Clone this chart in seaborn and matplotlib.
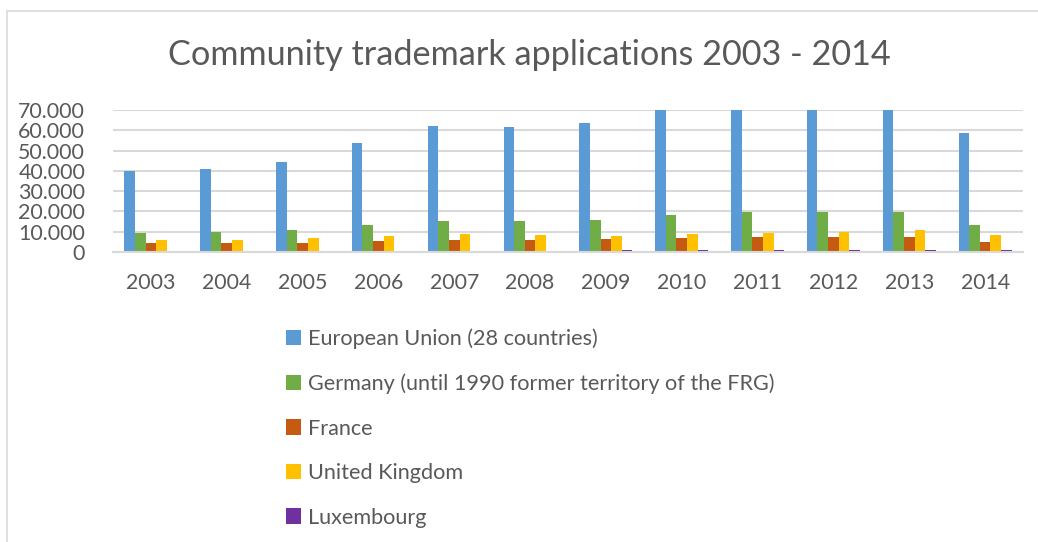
import matplotlib
matplotlib.use("Agg")
import matplotlib.pyplot as plt
import matplotlib.ticker as mticker
from matplotlib.patches import Rectangle
import pandas as pd
import seaborn as sns

years = ["2003", "2004", "2005", "2006", "2007", "2008",
         "2009", "2010", "2011", "2012", "2013", "2014"]
countries = ["European Union (28 countries)",
             "Germany (until 1990 former territory of the FRG)",
             "France", "United Kingdom", "Luxembourg"]

eu = [40000, 40700, 44200, 53600, 62000, 61400, 63400, 74000, 76000, 77500, 79000, 58600]
germany = [9500, 9900, 10900, 13500, 15500, 15500, 16000, 18300, 19900, 19900, 19900, 13300]
france = [4300, 4400, 4600, 5300, 5800, 5900, 6400, 7100, 7400, 7400, 7600, 4900]
uk = [5900, 6100, 6900, 8100, 8900, 8400, 7900, 8700, 9200, 10000, 10900, 8200]
luxembourg = [400, 400, 400, 500, 600, 600, 900, 900, 900, 900, 1100, 800]

colors = ["#5B9BD5", "#70AD47", "#C55A11", "#FFC000", "#7030A0"]

rows = []
for name, vals in zip(countries, [eu, germany, france, uk, luxembourg]):
    for y, v in zip(years, vals):
        rows.append({"year": y, "country": name, "value": v})
df = pd.DataFrame(rows)

sns.set_style("white")
plt.rcParams["font.family"] = ["Lato", "DejaVu Sans"]
txt = "#595959"

fig = plt.figure(figsize=(10.38, 5.42), dpi=100)
ax = fig.add_axes([113 / 1038, 1 - 252 / 542, 910 / 1038, 142 / 542])

sns.barplot(data=df, x="year", y="value", hue="country", order=years,
            hue_order=countries, palette=colors, width=0.7, ax=ax,
            linewidth=0, saturation=1)

ax.set_ylim(0, 70000)
ax.set_yticks(range(0, 70001, 10000))
ax.yaxis.set_major_formatter(mticker.FuncFormatter(
    lambda v, p: "0" if v == 0 else f"{int(v):,}".replace(",", ".")))
ax.grid(axis="y", color="#D9D9D9", linewidth=1.5)
ax.set_axisbelow(True)
for s in ["top", "right", "left"]:
    ax.spines[s].set_visible(False)
ax.spines["bottom"].set_color("#D9D9D9")
ax.spines["bottom"].set_linewidth(1.5)
ax.tick_params(axis="y", length=0, pad=20, labelsize=15.4, labelcolor=txt)
ax.tick_params(axis="x", length=0, pad=15, labelsize=15.3, labelcolor=txt)
ax.set_xlabel("")
ax.set_ylabel("")

ax.legend_.remove()
handles, labels = ax.get_legend_handles_labels()
fig.legend(handles, labels, loc="upper left", bbox_to_anchor=(266 / 1038, 1 - 309 / 542),
           frameon=False, fontsize=15.6, labelcolor=txt, handlelength=0.7,
           handleheight=0.7, handletextpad=0.35, labelspacing=1.13)

fig.text(0.51, 1 - 55 / 542, "Community trademark applications 2003 - 2014",
         ha="center", va="center", fontsize=24.7, color=txt)

fig.patches.append(Rectangle((6.5 / 1038, -0.1), 1.2, 1 - 11 / 542 + 0.1,
                             transform=fig.transFigure, fill=False,
                             edgecolor="#D9D9D9", linewidth=1.2))

fig.savefig("out.png", dpi=100)
